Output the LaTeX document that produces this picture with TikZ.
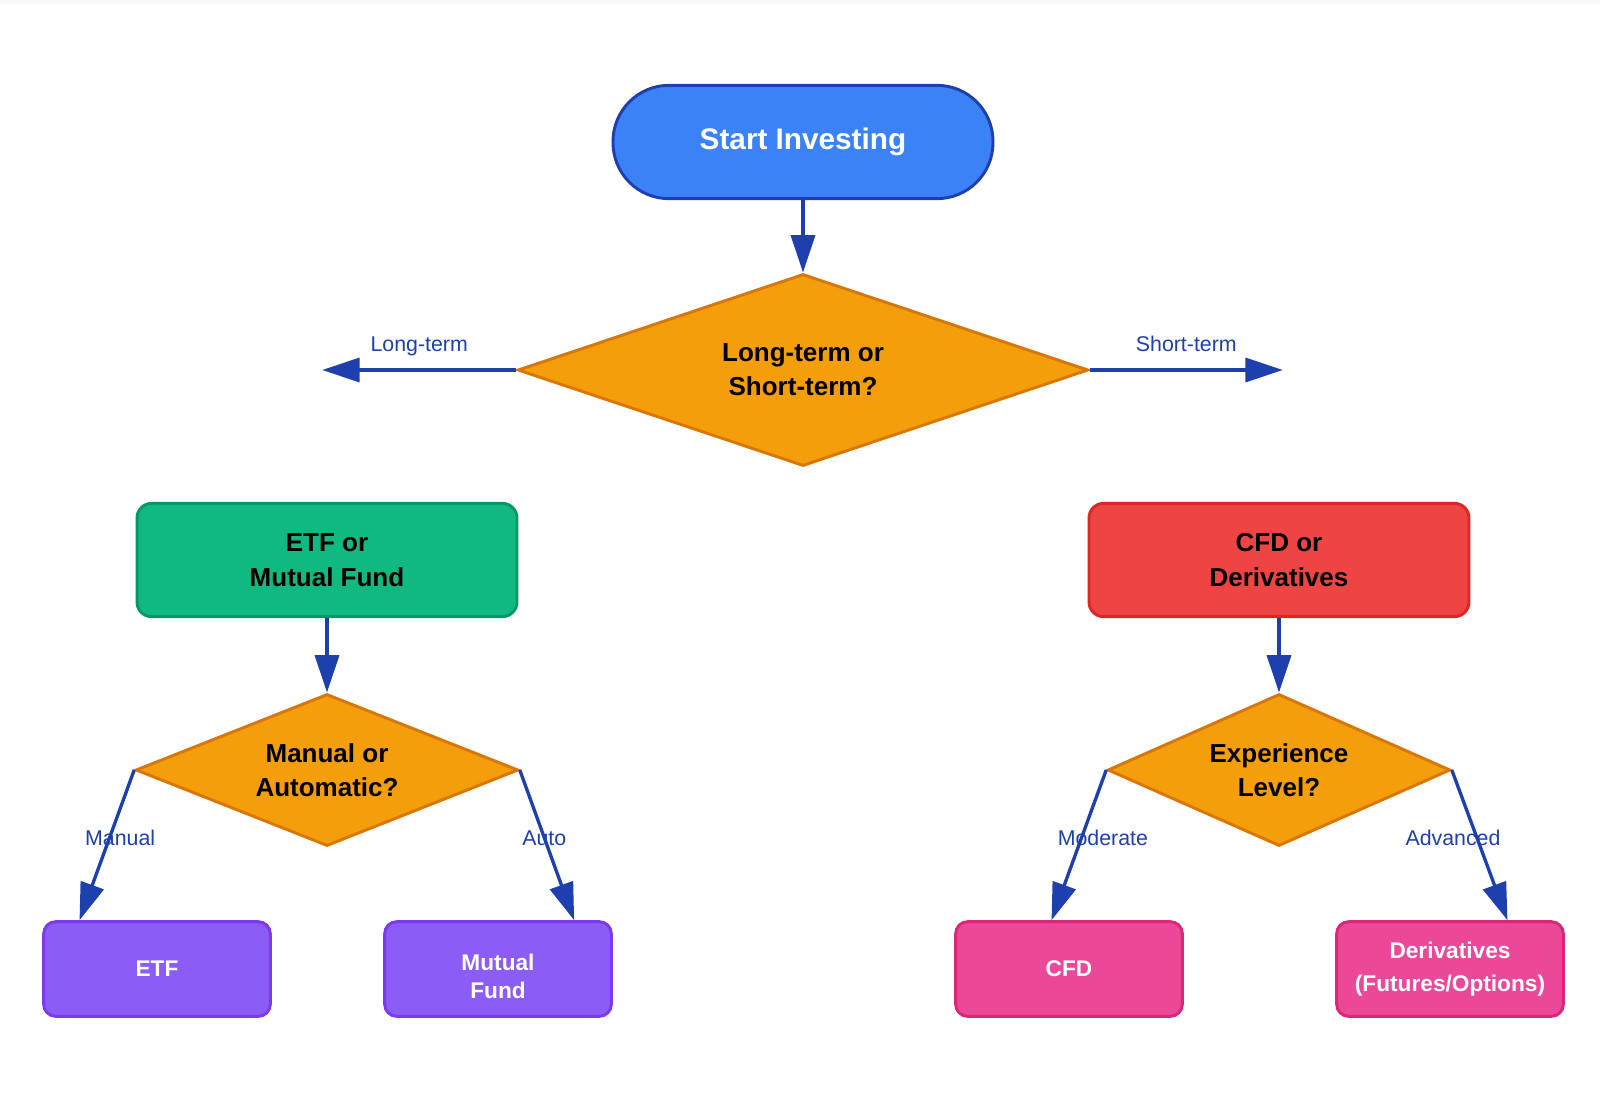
\documentclass[tikz,border=0pt]{standalone}
\usepackage{fontspec}
\setmainfont{Liberation Sans}
\usetikzlibrary{arrows.meta,shapes.geometric}
\definecolor{startblue}{HTML}{3B82F6}
\definecolor{startedge}{HTML}{1E40AF}
\definecolor{askfill}{HTML}{F59E0B}
\definecolor{askedge}{HTML}{D97706}
\definecolor{fundgreen}{HTML}{10B981}
\definecolor{fundedge}{HTML}{059669}
\definecolor{cfdred}{HTML}{EF4444}
\definecolor{cfdedge}{HTML}{DC2626}
\definecolor{leafpurple}{HTML}{8B5CF6}
\definecolor{purpleedge}{HTML}{7C3AED}
\definecolor{leafpink}{HTML}{EC4899}
\definecolor{pinkedge}{HTML}{DB2777}
\definecolor{flowblue}{HTML}{1E40AF}
\definecolor{stripgray}{HTML}{F8F9FA}
\begin{document}
\begin{tikzpicture}[x=0.75pt, y=-0.75pt,
  base/.style = {draw, line width=2.2pt, align=center, inner sep=0pt},
  startnode/.style = {base, rectangle, rounded corners=42pt, fill=startblue, draw=startedge, text=white, minimum width=285pt, minimum height=85pt, font=\bfseries\fontsize{22.3}{27}\selectfont},
  decision/.style = {base, diamond, fill=askfill, draw=askedge, font=\bfseries\fontsize{19.5}{25.3}\selectfont},
  category/.style = {base, rectangle, rounded corners=11pt, minimum width=285pt, minimum height=85pt, font=\bfseries\fontsize{19.5}{26}\selectfont},
  product/.style = {base, rectangle, rounded corners=9pt, minimum width=170pt, minimum height=71pt, text=white, font=\bfseries\fontsize{17}{24.5}\selectfont},
  flow/.style = {draw=flowblue, line width=2.5pt, -{Triangle[length=28pt, width=18pt]}},
  lbl/.style = {text=flowblue, inner sep=0pt, text height=11.5pt, text depth=3.5pt, font=\fontsize{16}{18}\selectfont}]
  \fill[white] (0,0) rectangle (1600,1100);
  \fill[stripgray] (0,0) rectangle (1600,4);
  \useasboundingbox (0,0) rectangle (1600,1100);

  \node[startnode] (start) at (803,142) {Start Investing};
  \node[decision, aspect=3, minimum width=428pt, minimum height=144pt] (term) [node distance=171pt, below of=start] {Long-term or\\Short-term?};
  \node[category, fill=fundgreen, draw=fundedge] (fund) [node distance=142.5pt, below of=term, xshift=-357pt] {ETF or\\Mutual Fund};
  \node[category, fill=cfdred, draw=cfdedge] (cfd) [node distance=142.5pt, below of=term, xshift=357pt] {CFD or\\Derivatives};
  \node[decision, aspect=2.5, minimum width=287pt, minimum height=114pt] (manual) [node distance=157.5pt, below of=fund] {Manual or\\Automatic?};
  \node[decision, aspect=2.3, minimum width=257pt, minimum height=114pt] (level) [node distance=157.5pt, below of=cfd] {Experience\\Level?};
  \node[product, fill=leafpurple, draw=purpleedge] (etf) [node distance=149.25pt, below of=manual, xshift=-127.5pt] {ETF};
  \node[product, fill=leafpurple, draw=purpleedge] (mutual) [node distance=149.25pt, below of=manual, xshift=128.25pt] {\rule{0pt}{23pt}Mutual\\[-3.5pt]Fund};
  \node[product, fill=leafpink, draw=pinkedge] (cfdleaf) [node distance=149.25pt, below of=level, xshift=-157.5pt] {CFD};
  \node[product, fill=leafpink, draw=pinkedge] (deriv) [node distance=149.25pt, below of=level, xshift=128.25pt] {Derivatives\\(Futures/Options)};
  \coordinate (longend) at ([xshift=-145.5pt]term.west);
  \coordinate (shortend) at ([xshift=144.75pt]term.east);

  \draw[flow] (start) to (term);
  \draw[flow] (term.west) to node[lbl, midway, above=9pt] {Long-term} (longend);
  \draw[flow] (term.east) to node[lbl, midway, above=9pt] {Short-term} (shortend);
  \draw[flow] (fund) to (manual);
  \draw[flow] (cfd) to (level);
  \draw[flow] (manual.west) to node[lbl, midway, xshift=10pt, yshift=4pt] {Manual} ([xshift=28pt]etf.north west);
  \draw[flow] (manual.east) to node[lbl, midway, xshift=-2pt, yshift=4pt] {Auto} ([xshift=-29pt]mutual.north east);
  \draw[flow] (level.west) to node[lbl, midway, xshift=18pt, yshift=4pt] {Moderate} ([xshift=73pt]cfdleaf.north west);
  \draw[flow] (level.east) to node[lbl, midway, xshift=-20pt, yshift=4pt] {Advanced} ([xshift=-43pt]deriv.north east);
\end{tikzpicture}
\end{document}
